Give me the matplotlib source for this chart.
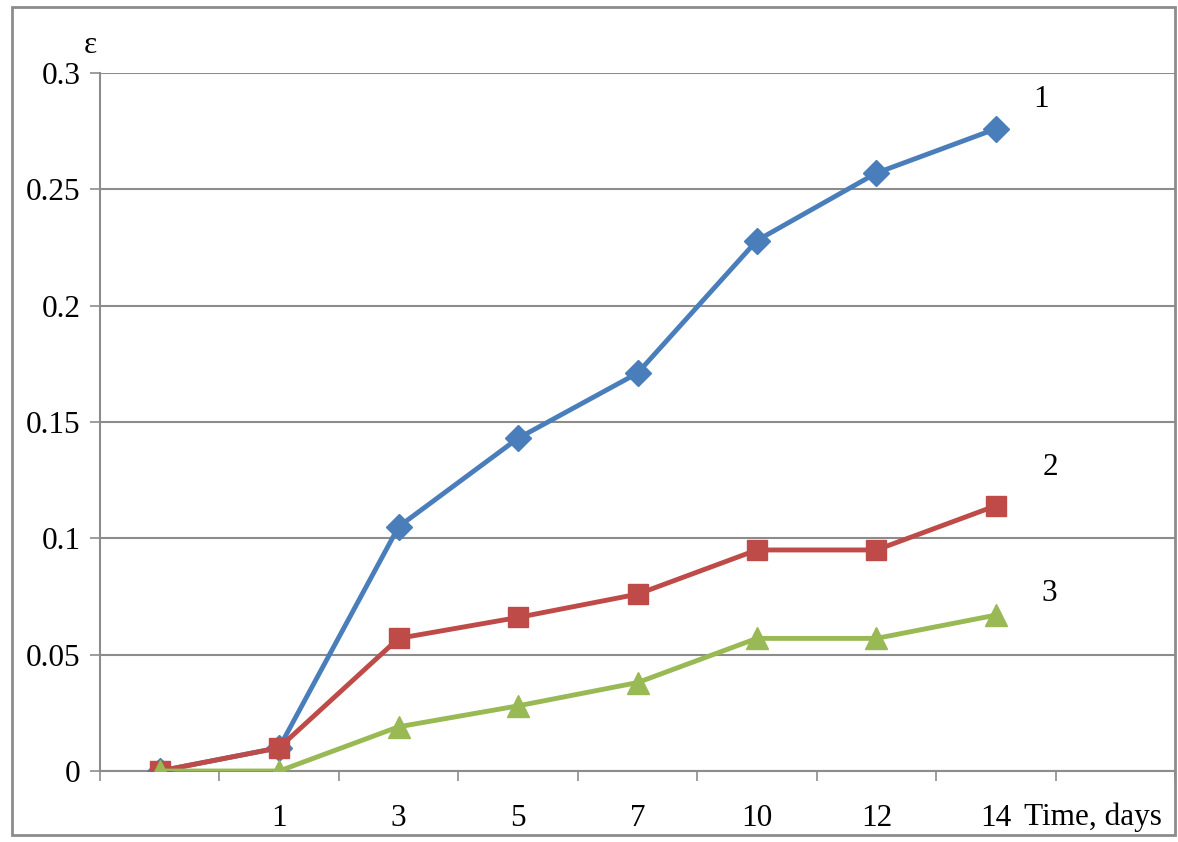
import matplotlib.pyplot as plt
from matplotlib.patches import Rectangle

categories = ["", "1", "3", "5", "7", "10", "12", "14", ""]
eps_1 = [0.0, 0.01, 0.105, 0.143, 0.171, 0.228, 0.257, 0.276]
eps_2 = [0.0, 0.01, 0.057, 0.066, 0.076, 0.095, 0.095, 0.114]
eps_3 = [0.0, 0.0, 0.019, 0.028, 0.038, 0.057, 0.057, 0.067]
yticks = [0, 0.05, 0.1, 0.15, 0.2, 0.25, 0.3]
ytick_labels = ["0", "0.05", "0.1", "0.15", "0.2", "0.25", "0.3"]

plt.rcParams['font.family'] = ['Liberation Serif', 'DejaVu Serif']
grey = '#8c8c8c'
fs = 22.5

fig = plt.figure(figsize=(11.78, 8.42), dpi=100)
ax = fig.add_axes([100 / 1178, 71 / 842, 1075 / 1178, 698 / 842])

x = list(range(len(eps_1)))
ax.plot(x, eps_1, color='#4a7ebb', lw=3.5, marker='D', ms=13, zorder=3)
ax.plot(x, eps_2, color='#be4b48', lw=3.5, marker='s', ms=15, zorder=4)
ax.plot(x, eps_3, color='#98b954', lw=3.5, marker='^', ms=16, zorder=5)

ax.set_xlim(-0.5, len(categories) - 0.5)
ax.set_ylim(0, 0.3)

# tick marks between categories, labels at the centres
ax.set_xticks([i - 0.5 for i in range(len(categories) + 1)])
ax.set_xticklabels([])
ax.set_xticks(range(len(categories)), minor=True)
ax.set_xticklabels(categories, minor=True)
ax.tick_params(axis='x', which='major', length=7, width=1.2, color=grey, direction='out')
ax.tick_params(axis='x', which='minor', length=0, pad=24, labelsize=fs)

ax.set_yticks(yticks)
ax.set_yticklabels(ytick_labels)
ax.tick_params(axis='y', length=7, width=1.2, color=grey, pad=7, labelsize=fs)

ax.grid(axis='y', color=grey, lw=1.5)
ax.set_axisbelow(True)
for side in ['top', 'right']:
    ax.spines[side].set_visible(False)
for side in ['left', 'bottom']:
    ax.spines[side].set_color(grey)
    ax.spines[side].set_linewidth(1.5)

ax.text(7.24, -0.0774, "Time, days", transform=ax.get_xaxis_transform(),
        fontsize=fs, ha='left', va='baseline')
ax.text(-0.584, 1.04, "\u03b5", transform=ax.get_xaxis_transform(),
        fontsize=fs, ha='center', va='center', clip_on=False)

# curve numbers
ax.text(7.38, 0.2888, "1", fontsize=fs, ha='center', va='center')
ax.text(7.46, 0.1306, "2", fontsize=fs, ha='center', va='center')
ax.text(7.45, 0.0761, "3", fontsize=fs, ha='center', va='center')

fig.patches.append(Rectangle((12 / 1178, 7 / 842), 1163 / 1178, 828 / 842,
                             transform=fig.transFigure, fill=False,
                             edgecolor=grey, lw=2))

plt.savefig('out.png', dpi=100)
